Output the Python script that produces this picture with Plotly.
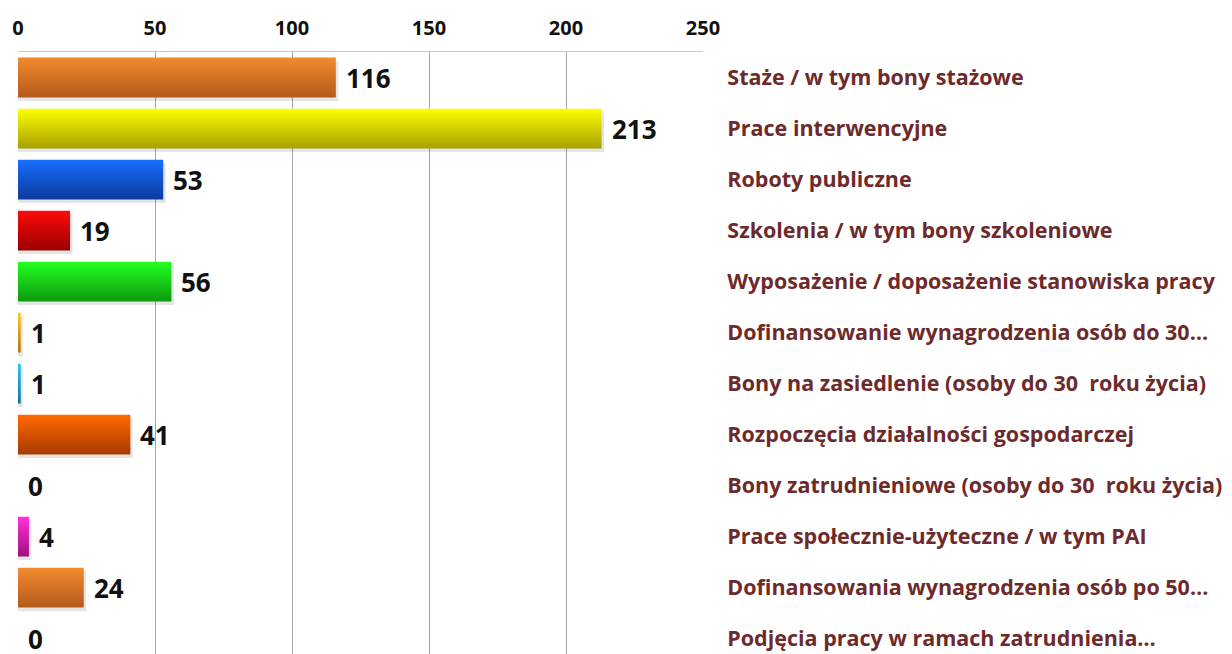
import plotly.graph_objects as go

# categories (top to bottom) and values
categories = [
    "Staże / w tym bony stażowe",
    "Prace interwencyjne",
    "Roboty publiczne",
    "Szkolenia / w tym bony szkoleniowe",
    "Wyposażenie / doposażenie stanowiska pracy",
    "Dofinansowanie wynagrodzenia osób do 30…",
    "Bony na zasiedlenie (osoby do 30  roku życia)",
    "Rozpoczęcia działalności gospodarczej",
    "Bony zatrudnieniowe (osoby do 30  roku życia)",
    "Prace społecznie-użyteczne / w tym PAI",
    "Dofinansowania wynagrodzenia osób po 50…",
    "Podjęcia pracy w ramach zatrudnienia…",
]
values = [116, 213, 53, 19, 56, 1, 1, 41, 0, 4, 24, 0]

# gradient colours per bar: light (top) -> dark (bottom)
top_colors = ["#F28A2E", "#FFFF00", "#1A6FFF", "#FF0A0A", "#22FF22", "#FFC81E",
              "#22C8FF", "#FF6A00", "#FFFFFF", "#FF30D8", "#F28A2E", "#FFFFFF"]
bottom_colors = ["#B55A1C", "#A8A000", "#0A3A9E", "#9A0000", "#0E9A0E", "#B07810",
                 "#10709E", "#A83A00", "#FFFFFF", "#9E1080", "#B55A1C", "#FFFFFF"]

x_ticks = [0, 50, 100, 150, 200, 250]

HALF = 0.39  # half bar thickness in category units
FONT = "'Open Sans', Lato, sans-serif"

fig = go.Figure()

for i, (v, c_top, c_bot) in enumerate(zip(values, top_colors, bottom_colors)):
    if v <= 0:
        continue
    # soft drop shadow
    fig.add_trace(go.Scatter(
        x=[0, v + 0.9, v + 0.9, 0, 0],
        y=[i - HALF + 0.07, i - HALF + 0.07, i + HALF + 0.07, i + HALF + 0.07, i - HALF + 0.07],
        mode="lines", fill="toself", line=dict(width=0),
        fillcolor="rgba(0,0,0,0.10)", hoverinfo="skip", showlegend=False,
    ))
    # gradient bar (axis is reversed, so the low end of the scale is the bottom edge)
    fig.add_trace(go.Scatter(
        x=[0, v, v, 0, 0],
        y=[i - HALF, i - HALF, i + HALF, i + HALF, i - HALF],
        mode="lines", fill="toself", line=dict(width=0),
        fillgradient=dict(type="vertical", colorscale=[[0, c_bot], [1, c_top]]),
        hoverinfo="skip", showlegend=False,
    ))

# value labels next to the bars
for i, v in enumerate(values):
    fig.add_annotation(
        x=v, y=i, text=f"<b>{v}</b>", showarrow=False,
        xanchor="left", yanchor="middle", xshift=8,
        font=dict(family=FONT, size=26, color="#111111"),
    )

# page body adds an 8px margin, so the figure is sized to fit the window
fig.update_layout(
    width=1224, height=646,
    margin=dict(l=10, r=529, t=44, b=0),
    paper_bgcolor="white", plot_bgcolor="white",
    showlegend=False,
    xaxis=dict(
        range=[0, 250], side="top", automargin=False,
        tickvals=x_ticks, ticktext=[f"<b>{t}</b>" for t in x_ticks],
        tickfont=dict(family=FONT, size=20, color="#111111"),
        showgrid=True, gridcolor="#A6A6A6", gridwidth=1,
        zeroline=False, showline=True, linecolor="#C8C8C8", mirror=True,
        ticks="outside", ticklen=8, tickcolor="rgba(0,0,0,0)",
        fixedrange=True,
    ),
    yaxis=dict(
        range=[11.3, -0.5], side="right", automargin=False,
        tickvals=list(range(len(categories))),
        ticktext=[f"<b>{c}</b>" for c in categories],
        tickfont=dict(family=FONT, size=21.5, color="#6E2A2A"),
        ticklabeloverflow="allow",
        showgrid=False, zeroline=False, showline=False,
        ticks="outside", ticklen=19, tickcolor="rgba(0,0,0,0)",
        fixedrange=True,
    ),
)

fig.write_html("out.html")
